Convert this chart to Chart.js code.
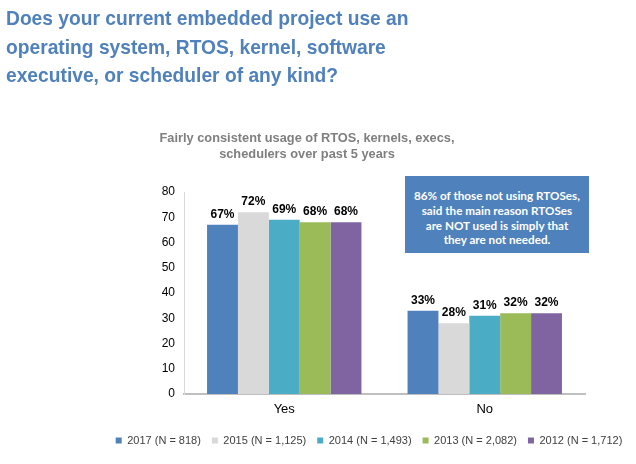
<!DOCTYPE html>
<html>
<head>
<meta charset="utf-8">
<script src="https://cdn.jsdelivr.net/npm/chart.js@4/dist/chart.umd.min.js"></script>
<style>
  html, body { margin: 0; padding: 0; background: #fff; }
  #wrap { position: relative; width: 636px; height: 464px; overflow: hidden; }
  #c { position: absolute; left: 0; top: 0; }
  #title { position: absolute; left: 6px; top: 4px; font: bold 21px "Liberation Sans", Arial, sans-serif; color: #4F81BD; line-height: 28.5px; white-space: nowrap; transform-origin: 0 0; transform: scaleX(0.915); }
  #sub { position: absolute; left: 57px; width: 500px; top: 130px; text-align: center; font: bold 12.8px "Liberation Sans", Arial, sans-serif; color: #7F7F7F; line-height: 15.8px; }
  #note { position: absolute; left: 405px; top: 176px; width: 184px; height: 77px; background: #4F81BD; color: #fff; font: bold 11.7px Lato, "Open Sans", sans-serif; text-align: center; line-height: 14.8px; box-sizing: border-box; padding-top: 12px; }
</style>
</head>
<body>
<div id="wrap">
  <canvas id="c" width="700" height="464"></canvas>
  <div id="title">Does your current embedded project use an<br>operating system, RTOS, kernel, software<br>executive, or scheduler of any kind?</div>
  <div id="sub">Fairly consistent usage of RTOS, kernels, execs,<br>schedulers over past 5 years</div>
  <div id="note">86% of those not using RTOSes,<br>said the main reason RTOSes<br>are NOT used is simply that<br>they are not needed.</div>
</div>
<script>
const categories = ["Yes", "No"];
const seriesNames = ["2017 (N = 818)", "2015 (N = 1,125)", "2014 (N = 1,493)", "2013 (N = 2,082)", "2012 (N = 1,712)"];
const values2017 = [67, 33];
const values2015 = [72, 28];
const values2014 = [69, 31];
const values2013 = [68, 32];
const values2012 = [68, 32];
const seriesColors = ["#4F81BD", "#D9D9D9", "#4BACC6", "#9BBB59", "#8064A2"];
const yTicks = [0, 10, 20, 30, 40, 50, 60, 70, 80];

const allValues = [values2017, values2015, values2014, values2013, values2012];

const labelPlugin = {
  id: 'barLabels',
  afterDatasetsDraw(chart) {
    const ctx = chart.ctx;
    ctx.save();
    ctx.font = 'bold 12px "Liberation Sans", Arial, sans-serif';
    ctx.fillStyle = '#000';
    ctx.textAlign = 'center';
    ctx.textBaseline = 'alphabetic';
    chart.data.datasets.forEach((ds, i) => {
      const meta = chart.getDatasetMeta(i);
      meta.data.forEach((bar, j) => {
        ctx.fillText(ds.data[j] + '%', bar.x, bar.y - 7);
      });
    });
    ctx.restore();
  }
};

new Chart(document.getElementById('c'), {
  type: 'bar',
  data: {
    labels: categories,
    datasets: seriesNames.map((n, i) => ({
      label: n,
      data: allValues[i],
      backgroundColor: seriesColors[i],
      borderWidth: 0,
      categoryPercentage: 0.77,
      barPercentage: 1.0
    }))
  },
  options: {
    responsive: false,
    animation: false,
    layout: { padding: { left: 99, right: 61, top: 192, bottom: 8 } },
    plugins: {
      legend: {
        position: 'bottom',
        labels: {
          boxWidth: 6, boxHeight: 6, padding: 11,
          color: '#404040',
          font: { size: 11, family: '"Liberation Sans", Arial, sans-serif' }
        }
      },
      tooltip: { enabled: false }
    },
    scales: {
      x: {
        grid: { display: false, drawTicks: false },
        border: { display: true, color: '#BFBFBF', width: 2 },
        ticks: { color: '#000', padding: 8, font: { size: 13, family: '"Liberation Sans", Arial, sans-serif' } },
        afterFit: s => { s.height = 30; }
      },
      y: {
        min: 0, max: 80,
        afterBuildTicks: s => { s.ticks = yTicks.map(v => ({ value: v })); },
        grid: { display: false, drawTicks: false },
        border: { display: true, color: '#D9D9D9', width: 1 },
        ticks: { color: '#000', padding: 9, font: { size: 12, family: '"Liberation Sans", Arial, sans-serif' } },
        afterFit: s => { s.width = 85; }
      },
      yRight: {
        type: 'linear',
        position: 'right',
        display: true,
        grid: { display: false, drawTicks: false },
        border: { display: false },
        ticks: { display: false },
        afterFit: s => { s.width = 54; }
      }
    }
  },
  plugins: [labelPlugin]
});
</script>
</body>
</html>
